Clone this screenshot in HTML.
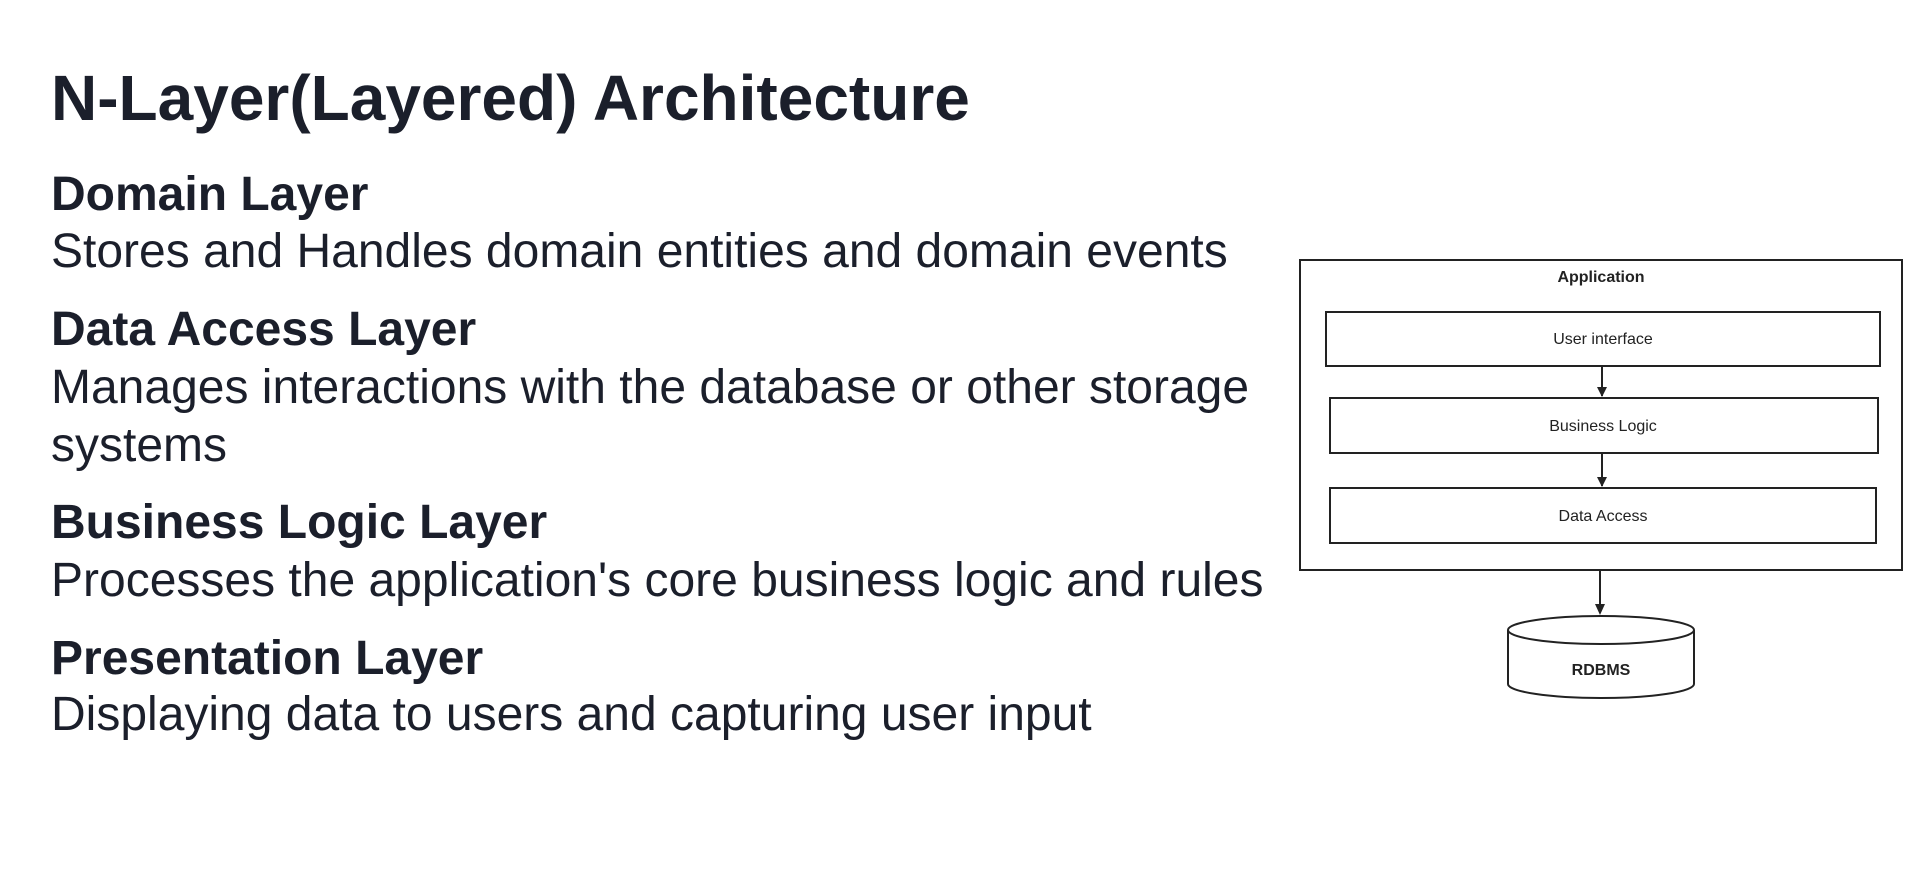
<!DOCTYPE html>
<html><head><meta charset="utf-8"><style>
html,body{margin:0;padding:0;background:#fff;width:1918px;height:881px;overflow:hidden}
svg{display:block}
</style></head><body>
<svg width="1918" height="881" viewBox="0 0 1918 881" xmlns="http://www.w3.org/2000/svg">
<g font-family="Liberation Sans, Arial, sans-serif" fill="#1b1f2b">
<text x="51" y="120" font-size="64" font-weight="bold">N-Layer(Layered) Architecture</text>
<text x="51" y="210" font-size="48" font-weight="bold">Domain Layer</text>
<text x="51" y="267" font-size="48">Stores and Handles domain entities and domain events</text>
<text x="51" y="345" font-size="48" font-weight="bold">Data Access Layer</text>
<text x="51" y="403" font-size="48">Manages interactions with the database or other storage</text>
<text x="51" y="461" font-size="48">systems</text>
<text x="51" y="538" font-size="48" font-weight="bold">Business Logic Layer</text>
<text x="51" y="596" font-size="48">Processes the application's core business logic and rules</text>
<text x="51" y="674" font-size="48" font-weight="bold">Presentation Layer</text>
<text x="51" y="730" font-size="48">Displaying data to users and capturing user input</text>
</g>
<g fill="none" stroke="#222" stroke-width="2">
<rect x="1300" y="260" width="602" height="310"/>
<rect x="1326" y="312" width="554" height="54"/>
<rect x="1330" y="398" width="548" height="55"/>
<rect x="1330" y="488" width="546" height="55"/>
<line x1="1602" y1="366" x2="1602" y2="396"/>
<line x1="1602" y1="453" x2="1602" y2="486"/>
<line x1="1600" y1="570" x2="1600" y2="613"/>
<path d="M1508 630 A93 14 0 0 1 1694 630 L1694 684 A93 14 0 0 1 1508 684 Z"/>
<path d="M1508 630 A93 14 0 0 0 1694 630"/>
</g>
<g fill="#222">
<path d="M1597 387 L1607 387 L1602 397 Z"/>
<path d="M1597 477 L1607 477 L1602 487 Z"/>
<path d="M1595 604 L1605 604 L1600 615 Z"/>
</g>
<g font-family="Liberation Sans, Arial, sans-serif" fill="#222" text-anchor="middle" font-size="16">
<text x="1601" y="282" font-weight="bold">Application</text>
<text x="1603" y="344">User interface</text>
<text x="1603" y="431">Business Logic</text>
<text x="1603" y="521">Data Access</text>
<text x="1601" y="675" font-weight="bold">RDBMS</text>
</g>
</svg>
</body></html>
